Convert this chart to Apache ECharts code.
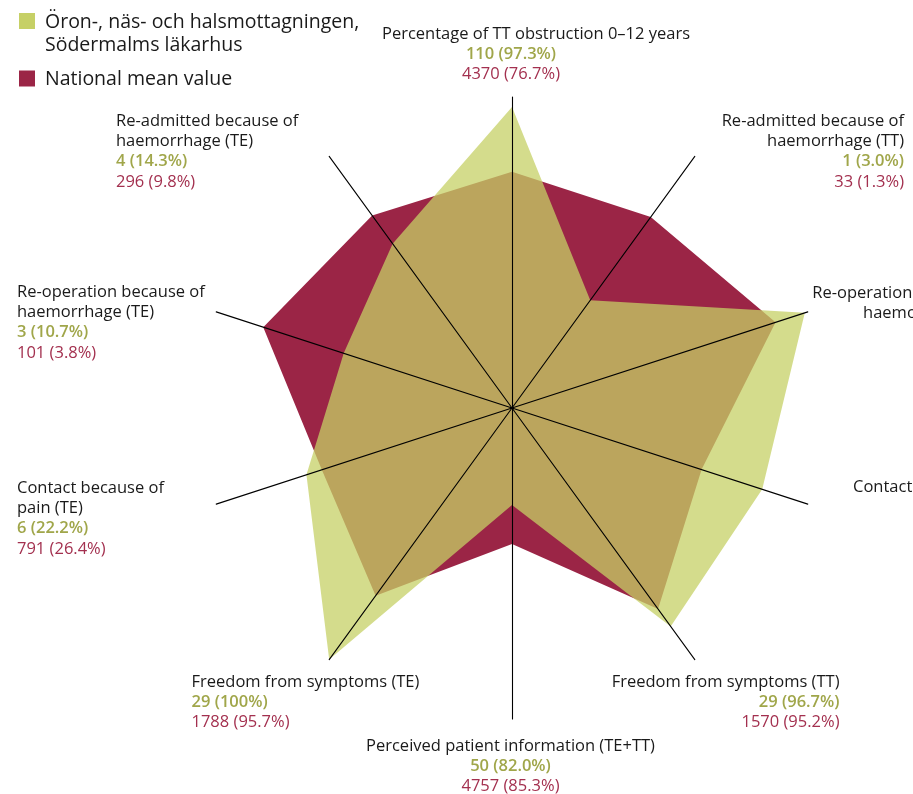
<!DOCTYPE html>
<html>
<head>
<meta charset="utf-8">
<script src="https://cdn.jsdelivr.net/npm/echarts@6/dist/echarts.min.js"></script>
<style>
html,body{margin:0;padding:0;background:#fff;}
#chart{width:913px;height:794px;}
</style>
</head>
<body>
<div id="chart"></div>
<script>
// Categories, clockwise from the top
const categories = [
  "Percentage of TT obstruction 0–12 years",
  "Re-admitted because of\nhaemorrhage (TT)",
  "Re-operation because of\nhaemorrhage (TT)",
  "Contact because of\npain (TT)",
  "Freedom from symptoms (TT)",
  "Perceived patient information (TE+TT)",
  "Freedom from symptoms (TE)",
  "Contact because of\npain (TE)",
  "Re-operation because of\nhaemorrhage (TE)",
  "Re-admitted because of\nhaemorrhage (TE)"
];
const seriesNames = ["Öron-, näs- och halsmottagningen,\nSödermalms läkarhus", "National mean value"];
// plotted scores (0-100)
const clinicScore   = [96.8, 42.8, 99.0, 84.6, 86.8, 31.2, 100, 69.5, 56.9, 65.3];
const nationalScore = [76.0, 75.9, 89.1, 64.1, 79.9, 43.7, 74.6, 64.3, 84.1, 76.5];
// value labels
const clinicLabels   = ["110 (97.3%)", "1 (3.0%)", null, null, "29 (96.7%)", "50 (82.0%)", "29 (100%)", "6 (22.2%)", "3 (10.7%)", "4 (14.3%)"];
const nationalLabels = ["4370 (76.7%)", "33 (1.3%)", null, null, "1570 (95.2%)", "4757 (85.3%)", "1788 (95.7%)", "791 (26.4%)", "101 (3.8%)", "296 (9.8%)"];

const RED = '#9b2546';
const GREEN = 'rgb(198,208,102)';
const GREEN_TXT = '#a0a64a';
const RED_TXT = '#a3304f';
const FONT = '"Open Sans", "Noto Sans", sans-serif';
const FS = 16.5;

// label layout (positions only)
const layout = [
  {x: 536, y: 34, align: 'center', nx: 511},
  {x: 904, y: 121, align: 'right'},
  {x: 1000, y: 293, align: 'right'},
  {x: 1000, y: 487, align: 'right'},
  {x: 839.5, y: 682, align: 'right'},
  {x: 510.5, y: 746, align: 'center'},
  {x: 191.5, y: 682, align: 'left'},
  {x: 17, y: 488, align: 'left'},
  {x: 17, y: 292, align: 'left'},
  {x: 116, y: 121, align: 'left'}
];
const LH = 20.3;

// ECharts radar runs counter-clockwise: reorder
const order = [0, 9, 8, 7, 6, 5, 4, 3, 2, 1];
const indicator = order.map(i => ({name: categories[i].replace('\n', ' '), max: 100}));

const graphics = [];
function txt(text, x, y, align, fill, weight, size) {
  graphics.push({
    type: 'text', silent: true,
    style: {
      text: text, x: x, y: y, fill: fill,
      font: (weight || 'normal') + ' ' + (size || FS) + 'px ' + FONT,
      textAlign: align, textVerticalAlign: 'middle',
      align: align, verticalAlign: 'middle'
    }
  });
}
categories.forEach((c, i) => {
  const L = layout[i];
  const lines = c.split('\n');
  let y = L.y;
  lines.forEach(l => { txt(l, L.x, y, L.align, '#1a1a1a'); y += LH; });
  const nx = L.nx !== undefined ? L.nx : L.x;
  if (clinicLabels[i]) { txt(clinicLabels[i], nx, y, L.align, GREEN_TXT, '600'); y += LH; }
  if (nationalLabels[i]) { txt(nationalLabels[i], nx, y, L.align, RED_TXT, 'normal'); }
});
// legend
graphics.push({type: 'rect', silent: true, shape: {x: 19, y: 13, width: 16, height: 16}, style: {fill: GREEN}});
graphics.push({type: 'rect', silent: true, shape: {x: 19, y: 70.5, width: 16, height: 16}, style: {fill: RED}});
seriesNames[0].split('\n').forEach((l, k) => txt(l, 45, 22 + k * 23, 'left', '#1a1a1a', 'normal', 19.5));
txt(seriesNames[1], 45, 79, 'left', '#1a1a1a', 'normal', 19.5);

const chart = echarts.init(document.getElementById('chart'), null, {renderer: 'canvas'});
chart.setOption({
  animation: false,
  backgroundColor: '#fff',
  radar: {
    center: [512, 408],
    radius: 311,
    startAngle: 90,
    splitNumber: 1,
    indicator: indicator,
    axisName: {show: false},
    splitLine: {show: false},
    splitArea: {show: false},
    axisLine: {lineStyle: {color: '#000', width: 1.1}},
    axisTick: {show: false},
    axisLabel: {show: false},
    z: 10
  },
  series: [
    {
      type: 'radar', z: 2, symbol: 'none',
      lineStyle: {width: 0},
      data: [
        {name: seriesNames[1], value: order.map(i => nationalScore[i]),
         areaStyle: {color: RED, opacity: 1}, lineStyle: {width: 0}, itemStyle: {color: RED}},
        {name: seriesNames[0], value: order.map(i => clinicScore[i]),
         areaStyle: {color: GREEN, opacity: 0.75}, lineStyle: {width: 0}, itemStyle: {color: GREEN}}
      ]
    }
  ],
  graphic: graphics
});
</script>
</body>
</html>
